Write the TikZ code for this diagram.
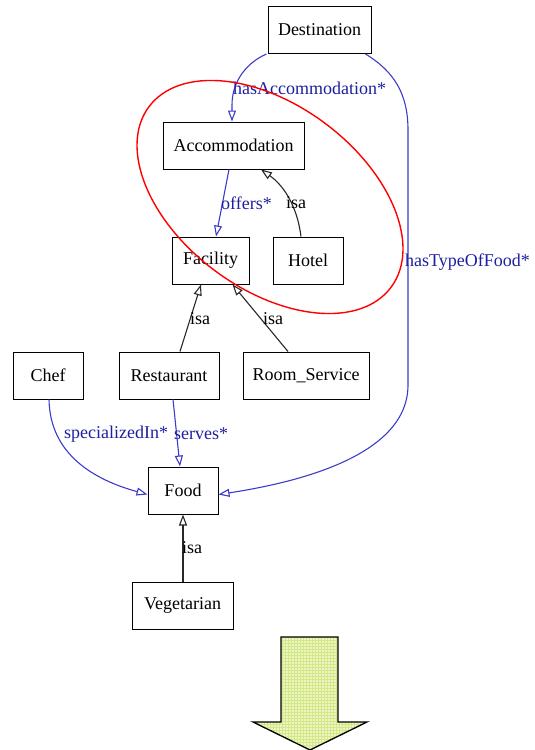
\documentclass[tikz,border=0pt]{standalone}
\usepackage{fontspec}
\setmainfont{Liberation Serif}
\usetikzlibrary{arrows.meta}
\definecolor{relblue}{RGB}{60,60,200}
\definecolor{labblue}{RGB}{30,30,160}
\definecolor{isagray}{RGB}{40,40,40}
\definecolor{arrowfill}{RGB}{238,245,196}
\definecolor{arrowgrid}{RGB}{210,232,135}
\tikzset{
  cls/.style={draw=black, line width=1pt, minimum height=47pt, inner sep=0pt,
              font=\fontsize{18}{20}\selectfont},
  rel/.style={draw=relblue, line width=1.1pt,
              -{Triangle[open, length=11pt, width=8pt]}},
  isarel/.style={draw=isagray, line width=1.1pt,
              -{Triangle[open, length=11pt, width=8pt]}},
  rellabel/.style={anchor=west, inner sep=0pt, text=labblue,
              font=\fontsize{18}{20}\selectfont},
  isalabel/.style={anchor=west, inner sep=0pt, text=black,
              font=\fontsize{18}{20}\selectfont},
}
\begin{document}
\begin{tikzpicture}[x=1pt, y=-1pt]
\useasboundingbox (0,0) rectangle (535,750);

% classes
\node[cls, minimum width=103pt] (dest)  at (319.5,30)   {Destination};
\node[cls, minimum width=141pt] (accom) at (233.5,145.5) {Accommodation};
\node[cls, minimum width=77pt]  (fac)   at (210.5,260.5) {Facility};
\node[cls, minimum width=70pt]  (hotel) at (308,260.5)   {Hotel};
\node[cls, minimum width=70pt]  (chef)  at (48,375.5)    {Chef};
\node[cls, minimum width=100pt] (rest)  at (169,375.5)   {Restaurant};
\node[cls, minimum width=126pt] (room)  at (306,375.5)   {Room\_Service};
\node[cls, minimum width=70pt]  (food)  at (183,490.5)   {Food};
\node[cls, minimum width=101pt] (veg)   at (182.5,605.5) {Vegetarian};

% object properties
\draw[rel] ([xshift=-1pt]dest.south west) .. controls (248,62) and (232,80) .. (232,105)
  -- ([xshift=-1.5pt]accom.north);
\draw[rel] ([xshift=-6pt]dest.south east) .. controls (395,72) and (408,95) .. (408,130)
  -- (408,385) .. controls (408,455) and (300,482) .. ([yshift=-4pt]food.east);
\draw[rel] ([xshift=-4.5pt]accom.south) -- ([xshift=5.5pt]fac.north);
\draw[rel] ([xshift=1pt]chef.south) .. controls (50,455) and (95,480) .. ([yshift=-4pt]food.west);
\draw[rel] ([xshift=4pt]rest.south) -- ([xshift=-3pt]food.north);

% subclass links
\draw[isarel] ([xshift=-7pt]hotel.north) .. controls (297,205) and (283,185) .. ([xshift=27.5pt]accom.south);
\draw[isarel] ([xshift=11pt]rest.north) -- ([xshift=-9.5pt]fac.south);
\draw[isarel] ([xshift=-18pt]room.north) -- ([xshift=22pt]fac.south);
\draw[isarel] ([xshift=0.5pt]veg.north) -- (food.south);

% edge labels
\node[rellabel] (lhasacc)  at (233,88)  {hasAccommodation*};
\node[rellabel] (loffers)  at (221,203) {offers*};
\node[isalabel] (lisahot)  at (286,203) {isa};
\node[isalabel] (lisares)  at (190,319) {isa};
\node[isalabel] (lisaroom) at (263,319) {isa};
\node[rellabel] (lspec)    at (64,434)  {specializedIn*};
\node[rellabel] (lserves)  at (174,434) {serves*};
\node[rellabel] (ltype)    at (405,262) {hasTypeOfFood*};
\node[isalabel] (lisaveg)  at (182,548) {isa};

% highlighted group
\draw[red, line width=1.4pt, rotate around={-36.7:(270,197)}]
  (270,197) ellipse [x radius=151, y radius=92];

% big down arrow with checked fill
\coordinate (tip) at (310,750);
\path[fill=arrowfill] (281,637) -- (338,637) -- (338,722) -- (367,722) -- (tip)
  -- (253,722) -- (281,722) -- cycle;
\begin{scope}
  \clip (281,637) -- (338,637) -- (338,722) -- (367,722) -- (tip)
    -- (253,722) -- (281,722) -- cycle;
  \foreach \gx in {252,255,...,369} {\draw[arrowgrid, line width=0.5pt] (\gx,636) -- (\gx,751);}
  \foreach \gy in {637,640,...,750} {\draw[arrowgrid, line width=0.5pt] (252,\gy) -- (369,\gy);}
\end{scope}
\draw[black, line width=1.3pt, line join=miter] (281,637) -- (338,637) -- (338,722) -- (367,722)
  -- (tip) -- (253,722) -- (281,722) -- cycle;
\end{tikzpicture}
\end{document}
